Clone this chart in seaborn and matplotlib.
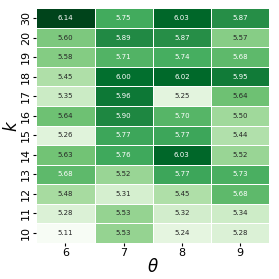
import numpy as np
import pandas as pd
import matplotlib
matplotlib.use("Agg")
import matplotlib.pyplot as plt
import seaborn as sns

# rows are k (top to bottom), columns are theta
k_labels = ["30", "20", "19", "18", "17", "16", "15", "14", "13", "12", "11", "10"]
theta_labels = ["6", "7", "8", "9"]

theta6 = [6.14, 5.60, 5.58, 5.45, 5.35, 5.64, 5.26, 5.63, 5.68, 5.48, 5.28, 5.11]
theta7 = [5.75, 5.89, 5.71, 6.00, 5.96, 5.90, 5.77, 5.76, 5.52, 5.31, 5.53, 5.53]
theta8 = [6.03, 5.87, 5.74, 6.02, 5.25, 5.70, 5.77, 6.03, 5.77, 5.45, 5.32, 5.24]
theta9 = [5.87, 5.57, 5.68, 5.95, 5.64, 5.50, 5.44, 5.52, 5.73, 5.68, 5.34, 5.28]

df = pd.DataFrame(dict(zip(theta_labels, [theta6, theta7, theta8, theta9])), index=k_labels)

fig, ax = plt.subplots(figsize=(2.79, 2.79), dpi=100)
sns.heatmap(df, cmap="Greens", annot=True, fmt=".2f", cbar=False,
            linewidths=0.5, linecolor="white", annot_kws={"size": 5}, ax=ax)
ax.set_xlabel(r"$\theta$", fontsize=12, labelpad=0)
ax.set_ylabel(r"$k$", fontsize=12, labelpad=0)
ax.tick_params(axis="both", labelsize=8, length=2, pad=2)
plt.setp(ax.get_yticklabels(), rotation=90, va="center")
plt.setp(ax.get_xticklabels(), rotation=0)
fig.subplots_adjust(left=0.13, right=0.965, top=0.97, bottom=0.13)
fig.savefig("out.png", dpi=100)
